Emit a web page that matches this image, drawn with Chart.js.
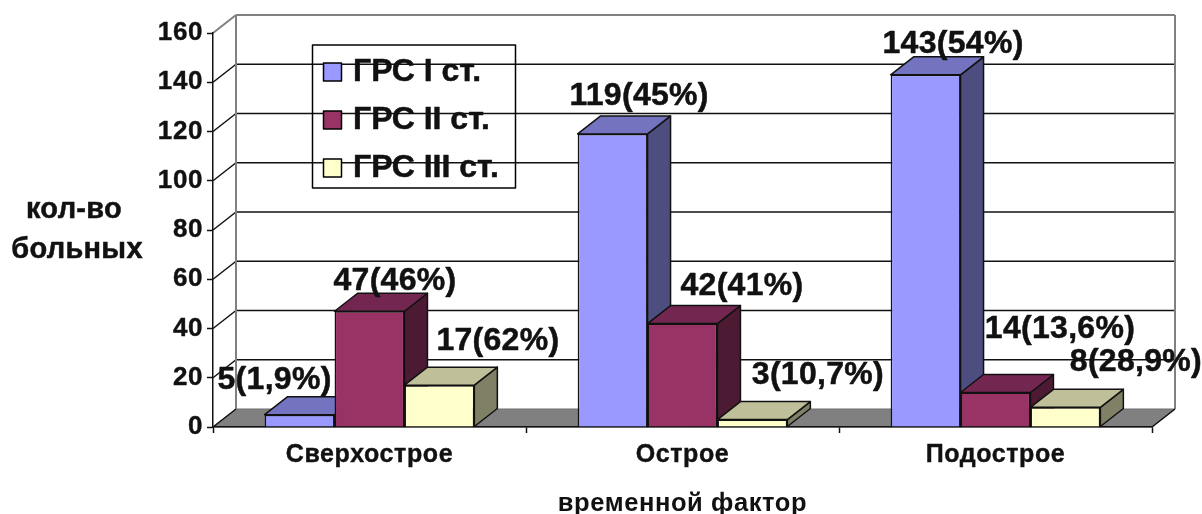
<!DOCTYPE html>
<html><head><meta charset="utf-8">
<style>html,body{margin:0;padding:0;background:#fff}canvas{display:block}</style>
<script src="https://cdn.jsdelivr.net/npm/chart.js@4/dist/chart.umd.js"></script>
</head><body><canvas id="c" width="1202" height="514" style="width:1202px;height:514px"></canvas>
<script>
const categories = ['Сверхострое','Острое','Подострое'];
const seriesNames = ['ГРС I ст.','ГРС II ст.','ГРС III ст.'];
const grs1 = [5,119,143];
const grs2 = [47,42,14];
const grs3 = [17,3,8];
const labels1 = ['5(1,9%)','119(45%)','143(54%)'];
const labels2 = ['47(46%)','42(41%)','14(13,6%)'];
const labels3 = ['17(62%)','3(10,7%)','8(28,9%)'];
const yTitle = ['кол-во','больных'];
const xTitle = 'временной фактор';

const front = ['#9999FF','#993366','#FFFFCC'];
const side  = ['#4D4D80','#4D1A33','#808066'];
const top_  = ['#7373BF','#732650','#BFBF99'];
const DX = 23, DY = 18;
const FONT = 'Liberation Sans, Arial, sans-serif';
const labelOffsets = [
  [[-25,-35],[25.5,-30],[58.5,-44]],
  [[26.5,-38],[59.5,-37],[65.5,-44]],
  [[27.5,-31],[64.5,-63.5],[70.5,-45]]
];
const allLabels = [labels1,labels2,labels3];

function poly(ctx, pts, fill, stroke, lw){
  ctx.beginPath();
  pts.forEach((p,i)=> i?ctx.lineTo(p[0],p[1]):ctx.moveTo(p[0],p[1]));
  ctx.closePath();
  if(fill){ctx.fillStyle=fill;ctx.fill();}
  if(stroke){ctx.strokeStyle=stroke;ctx.lineWidth=lw;ctx.lineJoin='round';ctx.stroke();}
}
function line(ctx,x1,y1,x2,y2,c,w){
  ctx.beginPath();ctx.moveTo(x1,y1);ctx.lineTo(x2,y2);ctx.strokeStyle=c;ctx.lineWidth=w;ctx.stroke();
}
function boldText(ctx,t,x,y){
  ctx.lineWidth=0.5;ctx.strokeStyle='#111';ctx.strokeText(t,x,y);ctx.fillText(t,x,y);
}
const scene = {
  id:'scene',
  beforeDraw(chart){
    const ctx=chart.ctx, a=chart.chartArea, y=chart.scales.y;
    ctx.letterSpacing='0.6px';
    ctx.save();
    const y0=y.getPixelForValue(0), yT=y.getPixelForValue(160);
    poly(ctx,[[a.left,y0],[a.left+DX,y0-DY],[a.right+DX,y0-DY],[a.right,y0]],'#808080','#6e6e6e',1);
    y.ticks.forEach(t=>{
      const p=y.getPixelForValue(t.value);
      if(t.value>0&&t.value<160){
        line(ctx,a.left,p,a.left+DX,p-DY,'#111',1.5);
        line(ctx,a.left+DX,p-DY,a.right+DX,p-DY,'#111',1.5);
      }
    });
    line(ctx,a.left,yT,a.left+DX,yT-DY,'#808080',2);
    line(ctx,a.left+DX,yT-DY,a.right+DX,yT-DY,'#808080',2);
    line(ctx,a.left+DX,yT-DY,a.left+DX,y0-DY,'#808080',2);
    line(ctx,a.right+DX,yT-DY,a.right+DX,y0-DY,'#808080',2);
    line(ctx,a.left,y0,a.left+DX,y0-DY,'#111',1.5);
    line(ctx,a.right,y0,a.right+DX,y0-DY,'#111',1.5);
    ctx.restore();
  },
  beforeDatasetsDraw(chart){
    const ctx=chart.ctx;
    chart.data.datasets.forEach((d,i)=>{
      const meta=chart.getDatasetMeta(i);
      meta.data.forEach(b=>{
        const l=b.x-b.width/2, r=b.x+b.width/2, t=b.y, bt=b.base;
        poly(ctx,[[r,t],[r+DX,t-DY],[r+DX,bt-DY],[r,bt]],side[i],'#111',1.5);
        poly(ctx,[[l,t],[l+DX,t-DY],[r+DX,t-DY],[r,t]],top_[i],'#111',1.5);
      });
      meta.controller.draw();
    });
    return false;
  },
  afterDraw(chart){
    const ctx=chart.ctx;
    ctx.save();
    ctx.fillStyle='#111';
    ctx.textAlign='center';ctx.textBaseline='middle';
    // data labels
    ctx.font='bold 32px '+FONT;
    ctx.letterSpacing='0.3px';
    chart.data.datasets.forEach((d,i)=>{
      chart.getDatasetMeta(i).data.forEach((b,j)=>{
        const o=labelOffsets[j][i];
        boldText(ctx,allLabels[i][j],b.x+o[0],b.y+o[1]);
      });
    });
    // horizontal Y title
    ctx.font='bold 29px '+FONT;
    ctx.letterSpacing='0.3px';
    boldText(ctx,yTitle[0],74,210);
    boldText(ctx,yTitle[1],77,250);
    // legend
    const bx=312.5,by=45,bw=203,bh=143;
    ctx.strokeStyle='#000';ctx.lineWidth=1.5;ctx.strokeRect(bx,by,bw,bh);
    ctx.font='bold 32px '+FONT;
    ctx.letterSpacing='0px';
    ctx.textAlign='left';
    seriesNames.forEach((n,i)=>{
      const sy=63+i*48;
      ctx.fillStyle=front[i];ctx.fillRect(323.5,sy,18,18);
      ctx.strokeStyle='#000';ctx.lineWidth=1.5;ctx.strokeRect(323.5,sy,18,18);
      ctx.fillStyle='#111';
      boldText(ctx,n,353,sy+9);
    });
    ctx.restore();
  }
};
new Chart(document.getElementById('c'),{
  type:'bar',
  data:{labels:categories,datasets:[grs1,grs2,grs3].map((v,i)=>({
    label:seriesNames[i],data:v,backgroundColor:front[i],borderColor:'#111',borderWidth:1.5,
    categoryPercentage:0.67,barPercentage:1
  }))},
  options:{
    responsive:false,animation:false,
    layout:{padding:{left:0,right:50,top:33,bottom:0}},
    plugins:{legend:{display:false},tooltip:{enabled:false},title:{display:false}},
    scales:{
      x:{
        afterFit(s){s.height=87;},
        grid:{display:true,drawOnChartArea:false,offset:true,tickLength:6,tickColor:'#111',tickWidth:1.5},
        border:{color:'#111',width:1.5},
        ticks:{color:'#111',textStrokeColor:'#111',textStrokeWidth:0.4,font:{family:FONT,size:25,weight:'bold'},padding:7,maxRotation:0},
        title:{display:true,text:xTitle,color:'#111',font:{family:FONT,size:25.5,weight:'bold'},padding:{top:0,bottom:-5}}
      },
      y:{
        min:0,max:160,
        afterFit(s){s.width=213;},
        grid:{display:true,drawOnChartArea:false,tickLength:6,tickColor:'#111',tickWidth:1.5},
        border:{color:'#111',width:1.5},
        ticks:{stepSize:20,color:'#111',textStrokeColor:'#111',textStrokeWidth:0.4,font:{family:FONT,size:26,weight:'bold'},padding:4}
      }
    }
  },
  plugins:[scene]
});
</script></body></html>
